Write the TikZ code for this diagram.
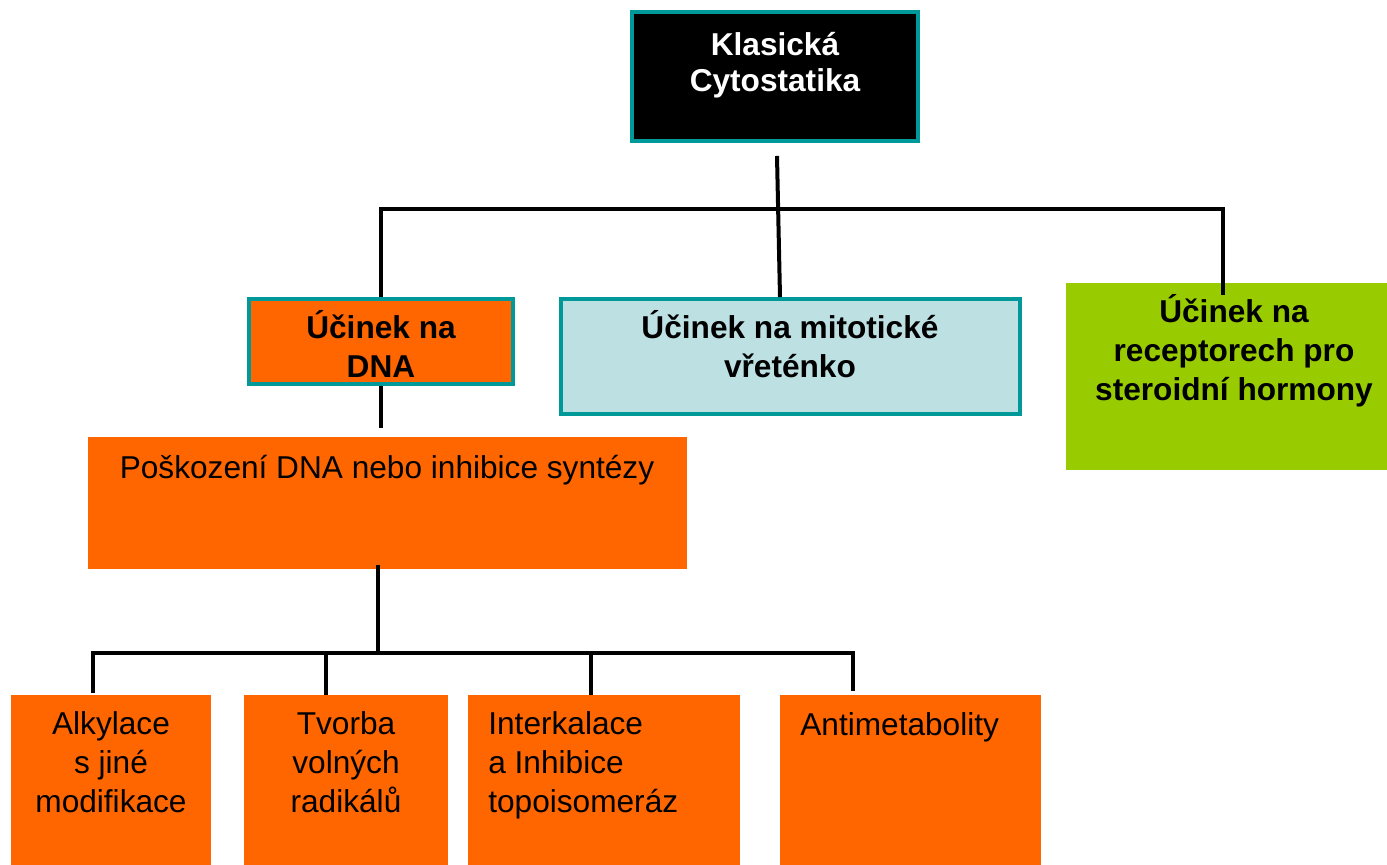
\documentclass[tikz,border=0pt]{standalone}
\usepackage{fontspec}
\setmainfont{Liberation Sans}
\definecolor{tealedge}{RGB}{0,153,153}
\definecolor{orangefill}{RGB}{255,102,0}
\definecolor{paleblue}{RGB}{189,224,227}
\definecolor{limegreen}{RGB}{153,204,0}
\begin{document}
\begin{tikzpicture}[x=0.02cm, y=-0.02cm,
  box/.style={rectangle, inner sep=0pt, line width=0.08cm},
  edged/.style={box, draw=tealedge},
  plain/.style={box},
  label/.style={inner sep=0pt, font=\fontsize{18}{22}\selectfont, anchor=base},
  blabel/.style={label, font=\fontsize{18}{22}\selectfont\bfseries},
  conn/.style={draw=black, line width=0.08cm, line join=miter}]
\useasboundingbox (0,0) rectangle (1387,865);

% boxes
\node[edged, fill=black, minimum width=5.72cm, minimum height=2.58cm] (top) at (775,76.5) {};
\node[edged, fill=orangefill, minimum width=5.28cm, minimum height=1.70cm] (dna) at (381,341.5) {};
\node[edged, fill=paleblue, minimum width=9.18cm, minimum height=2.30cm] (mit) at (790.5,356.5) {};
\node[plain, fill=limegreen, minimum width=6.42cm, minimum height=3.74cm] (ster) at (1226.5,376.5) {};
\node[plain, fill=orangefill, minimum width=11.98cm, minimum height=2.64cm] (pos) at (387.5,503) {};
\node[plain, fill=orangefill, minimum width=4.00cm, minimum height=3.40cm] (alk) at (111,780) {};
\node[plain, fill=orangefill, minimum width=4.08cm, minimum height=3.40cm] (tvo) at (346,780) {};
\node[plain, fill=orangefill, minimum width=5.44cm, minimum height=3.40cm] (int) at (604,780) {};
\node[plain, fill=orangefill, minimum width=5.22cm, minimum height=3.40cm] (ant) at (910.5,780) {};

% labels (anchored at the baseline of their last line)
\node[blabel, text=white, font=\fontsize{18}{21}\selectfont\bfseries, align=center] (topT) at (775,92) {Klasická\\Cytostatika};
\node[blabel, align=center] (dnaT) at (381,377) {Účinek na\\DNA};
\node[blabel, align=center] (mitT) at (790,377) {Účinek na mitotické\\vřeténko};
\node[blabel, align=center] (sterT) at (1234,400) {Účinek na\\receptorech pro\\steroidní hormony};
\node[label] (posT) at (387,478) {Poškození DNA nebo inhibice syntézy};
\node[label, align=center] (alkT) at (111,812) {Alkylace\\s jiné\\modifikace};
\node[label, align=center] (tvoT) at (346,812) {Tvorba\\volných\\radikálů};
\node[label, align=left, anchor=base west] (intT) at (488,812) {Interkalace\\a Inhibice\\topoisomeráz};
\node[label, anchor=base west] (antT) at (800,735) {Antimetabolity};

% connectors, upper level
\coordinate (barL) at (381,209);
\coordinate (barR) at (1223,209);
\coordinate (midtap) at (780,0);
\draw[conn] ([xshift=0.04cm,yshift=-0.26cm]top.south) -- (mit.north -| midtap);
\draw[conn] (dna.north -| barL) -- (barL) -- (barR) -- ([yshift=-0.28cm]ster.north -| barR);

% connectors, DNA branch
\draw[conn] (dna.south) -- ([yshift=0.14cm]pos.north -| dna.south);
\coordinate (hub) at (378,653);
\coordinate (tapA) at (93,653);
\coordinate (tapB) at (326,653);
\coordinate (tapC) at (591,653);
\coordinate (tapD) at (853,653);
\draw[conn] ([yshift=0.12cm]pos.south -| hub) -- (hub);
\draw[conn] (alk.north -| tapA) -- (tapA) -- (tapD) -- ([yshift=0.04cm]ant.north -| tapD);
\draw[conn] (tapB) -- ([yshift=-0.04cm]tvo.north -| tapB);
\draw[conn] (tapC) -- ([yshift=-0.04cm]int.north -| tapC);
\end{tikzpicture}
\end{document}
